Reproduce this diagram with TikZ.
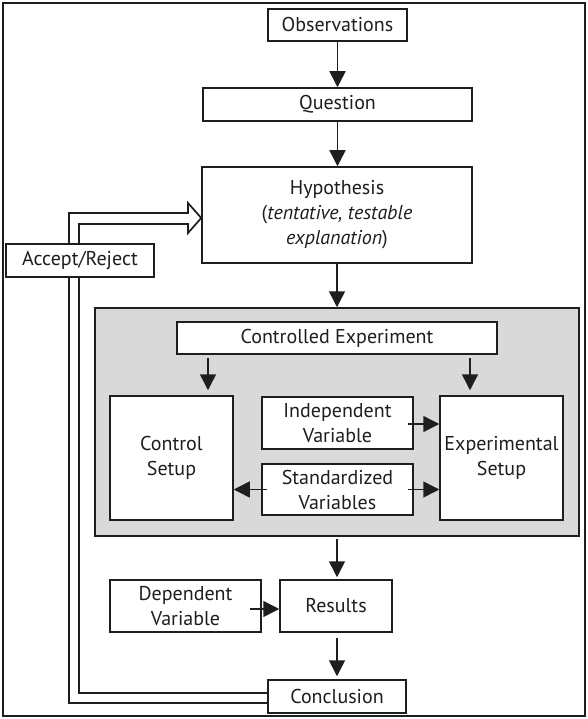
\documentclass[tikz,border=0pt]{standalone}
\usepackage{fontspec}
\setmainfont{PT Sans}
\usetikzlibrary{arrows.meta,calc}
\definecolor{ink}{HTML}{1E1E1E}
\definecolor{panel}{HTML}{D9D9D9}
\tikzset{
  box/.style={draw=ink,line width=1.5pt,fill=white,inner sep=0pt,align=center,
    font=\fontsize{20}{25}\selectfont,text=ink},
  arr/.style={draw=ink,line width=1.5pt,-{Triangle[width=16pt,length=16pt]}},
  dbl/.style={draw=ink,line width=1.7pt,line join=miter},
}
\begin{document}
\begin{tikzpicture}[x=1pt,y=-1pt]
\useasboundingbox (0,0) rectangle (588,719);
\fill[white] (0,0) rectangle (588,719);
\draw[ink,line width=2.4pt] (3,3) rectangle (585,716);

\node[box,minimum width=484pt,minimum height=228pt,fill=panel] (gray) at (337,422) {};

\node[box,minimum width=139pt,minimum height=32pt] (obs) at (337.5,25) {Observations};
\node[box,minimum width=269pt,minimum height=33pt] (q) at (337.5,104.5) {Question};
\node[box,minimum width=270pt,minimum height=96pt] (hyp) at (337,215)
  {Hypothesis\\(\textit{tentative, testable}\\\textit{explanation})};
\node[box,minimum width=320pt,minimum height=32pt] (ce) at (337,338) {Controlled Experiment};
\node[box,minimum width=123pt,minimum height=124pt] (cs) at (171.5,458) {Control\\Setup};
\node[box,minimum width=123pt,minimum height=124pt] (es) at (501.5,458) {Experimental\\Setup};
\node[box,minimum width=151pt,minimum height=52pt] (iv) at (337.5,423) {Independent\\Variable};
\node[box,minimum width=151pt,minimum height=51pt] (sv) at (337.5,489.5) {Standardized\\Variables};
\node[box,minimum width=151pt,minimum height=52pt] (dv) at (185.5,606) {Dependent\\Variable};
\node[box,minimum width=112pt,minimum height=52pt] (res) at (336,606) {Results};
\node[box,minimum width=138pt,minimum height=33pt] (conc) at (337,696.5) {Conclusion};

\coordinate (cl) at (208,0);
\coordinate (cr) at (470,0);

\draw[arr] (obs) -- (q);
\draw[arr] (q.south) -- (q.south |- hyp.north);
\draw[arr] (hyp.south) -- (hyp.south |- gray.north);
\draw[arr,shorten <=3pt,shorten >=5pt] (ce.south -| cl) -- (cs.north -| cl);
\draw[arr,shorten <=3pt,shorten >=5pt] (ce.south -| cr) -- (es.north -| cr);
\draw[arr] ([xshift=-6pt,yshift=-1pt]iv.east) -- ([yshift=-1pt]iv.east -| es.west);
\draw[arr] ([xshift=-6pt]sv.east) -- (sv.east -| es.west);
\draw[arr] ([xshift=6pt]sv.west) -- (sv.west -| cs.east);
\draw[arr,shorten <=2pt,shorten >=2pt] (gray.south) -- (gray.south |- res.north);
\draw[arr] ([xshift=-12pt,yshift=-3pt]dv.east) -- ([yshift=-3pt]dv.east -| res.west);
\draw[arr,shorten <=5pt,shorten >=3pt] (res.south -| conc.north) -- (conc.north);

\draw[dbl] ($(conc.west)+(0,6.5)$) -- (69,703) -- (69,213) -- (188,213) -- (188,203)
  -- ($(hyp.west)+(0,3)$) -- (188,233) -- (188,224) -- (79,224) -- (79,693)
  -- ($(conc.west)+(0,-3.5)$);

\node[box,minimum width=148pt,minimum height=33pt] (acc) at (80,260.5) {Accept/Reject};
\end{tikzpicture}
\end{document}
